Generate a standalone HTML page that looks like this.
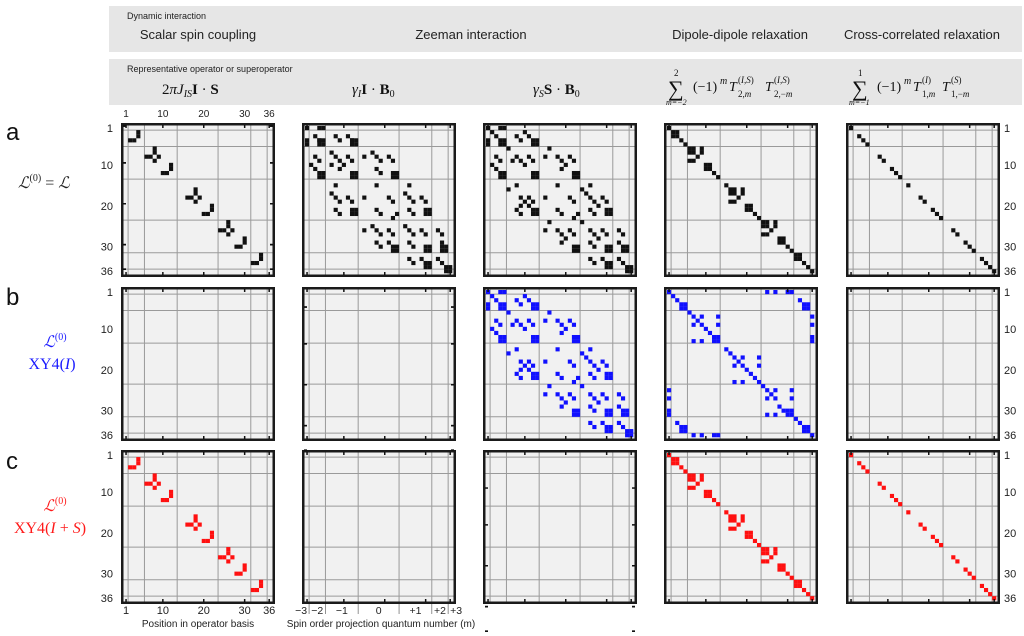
<!DOCTYPE html>
<html><head><meta charset="utf-8"><style>
html,body{margin:0;padding:0;background:#fff;width:1024px;height:636px;overflow:hidden;}
svg{display:block;overflow:hidden;}
text{font-family:"Liberation Sans",sans-serif;}
.s{font-family:"Liberation Serif","DejaVu Serif",serif;}
</style></head><body>
<svg id="sv" width="1024" height="636" viewBox="0 0 1024 636" xmlns="http://www.w3.org/2000/svg">
<rect x="109" y="6" width="913" height="46" fill="#e6e6e6"/>
<rect x="109" y="59" width="913" height="46" fill="#e6e6e6"/>
<text x="127" y="19" font-size="9" fill="#222">Dynamic interaction</text>
<text x="198" y="39" font-size="13" text-anchor="middle" fill="#222">Scalar spin coupling</text>
<text x="471" y="39" font-size="13" text-anchor="middle" fill="#222">Zeeman interaction</text>
<text x="740" y="39" font-size="13" text-anchor="middle" fill="#222">Dipole-dipole relaxation</text>
<text x="922" y="39" font-size="13" text-anchor="middle" fill="#222">Cross-correlated relaxation</text>
<text x="127" y="72" font-size="9" fill="#222">Representative operator or superoperator</text>
<g fill="#111">
<text x="162" y="94" font-size="15" class="s">2<tspan font-style="italic">πJ</tspan><tspan font-style="italic" font-size="10" dy="3">IS</tspan><tspan font-weight="bold" dy="-3">I</tspan> · <tspan font-weight="bold">S</tspan></text>
<text x="352" y="94" font-size="15" class="s"><tspan font-style="italic">γ</tspan><tspan font-style="italic" font-size="10" dy="3">I</tspan><tspan font-weight="bold" dy="-3">I</tspan> · <tspan font-weight="bold">B</tspan><tspan font-size="10" dy="3">0</tspan></text>
<text x="533" y="94" font-size="15" class="s"><tspan font-style="italic">γ</tspan><tspan font-style="italic" font-size="10" dy="3">S</tspan><tspan font-weight="bold" dy="-3">S</tspan> · <tspan font-weight="bold">B</tspan><tspan font-size="10" dy="3">0</tspan></text>

<text x="674" y="76" font-size="9" class="s">2</text>
<text x="668" y="96" font-size="22" class="s">∑</text>
<text x="666" y="105" font-size="8" class="s" font-style="italic">m=−2</text>
<text x="693" y="91" font-size="14" class="s">(−1)</text>
<text x="720" y="84" font-size="10" class="s" font-style="italic">m</text>
<text x="729" y="91" font-size="14" class="s" font-style="italic">T</text>
<text x="738" y="83" font-size="9" class="s">(<tspan font-style="italic">I,S</tspan>)</text>
<text x="738" y="97" font-size="9" class="s">2,<tspan font-style="italic">m</tspan></text>
<text x="765" y="91" font-size="14" class="s" font-style="italic">T</text>
<text x="774" y="83" font-size="9" class="s">(<tspan font-style="italic">I,S</tspan>)</text>
<text x="774" y="97" font-size="9" class="s">2,−<tspan font-style="italic">m</tspan></text>

<text x="858" y="76" font-size="9" class="s">1</text>
<text x="852" y="96" font-size="22" class="s">∑</text>
<text x="849" y="105" font-size="8" class="s" font-style="italic">m=−1</text>
<text x="877" y="91" font-size="14" class="s">(−1)</text>
<text x="904" y="84" font-size="10" class="s" font-style="italic">m</text>
<text x="913" y="91" font-size="14" class="s" font-style="italic">T</text>
<text x="922" y="83" font-size="9" class="s">(<tspan font-style="italic">I</tspan>)</text>
<text x="922" y="97" font-size="9" class="s">1,<tspan font-style="italic">m</tspan></text>
<text x="942" y="91" font-size="14" class="s" font-style="italic">T</text>
<text x="951" y="83" font-size="9" class="s">(<tspan font-style="italic">S</tspan>)</text>
<text x="951" y="97" font-size="9" class="s">1,−<tspan font-style="italic">m</tspan></text>
</g>
<text x="6" y="140" font-size="24" fill="#111">a</text>
<text x="6" y="305" font-size="24" fill="#111">b</text>
<text x="6" y="469" font-size="24" fill="#111">c</text>
<text x="18" y="188" font-size="16" class="s" font-style="italic" fill="#222">ℒ<tspan font-style="normal" font-size="10" dy="-7">(0)</tspan><tspan font-style="normal" dy="7"> = </tspan>ℒ</text>
<text x="55" y="347" font-size="16" class="s" font-style="italic" fill="#1a1aff" text-anchor="middle">ℒ<tspan font-style="normal" font-size="10" dy="-7">(0)</tspan></text>
<text x="52" y="369" font-size="16" class="s" fill="#1a1aff" text-anchor="middle">XY4(<tspan font-style="italic">I</tspan>)</text>
<text x="55" y="511" font-size="16" class="s" font-style="italic" fill="#ff1a1a" text-anchor="middle">ℒ<tspan font-style="normal" font-size="10" dy="-7">(0)</tspan></text>
<text x="50" y="533" font-size="16" class="s" fill="#ff1a1a" text-anchor="middle">XY4(<tspan font-style="italic">I</tspan> + <tspan font-style="italic">S</tspan>)</text>
<text x="198" y="627" font-size="10" text-anchor="middle" fill="#222">Position in operator basis</text>
<text x="381" y="627" font-size="10" text-anchor="middle" fill="#222">Spin order projection quantum number (m)</text>
<g id="g"></g>
</svg>
<script>
(function(){
var NS="http://www.w3.org/2000/svg",g=document.getElementById('g');
function el(t,a,txt){var e=document.createElementNS(NS,t);for(var k in a)e.setAttribute(k,a[k]);if(txt!=null)e.textContent=txt;g.appendChild(e);return e;}
var C=4.09,S=154;
var PX=[121,302,483,664,846],PY=[123,287,450];
function cx(x0,i){return x0+3+i*C;}
function col1(){var L=[];[4,12,22,30,34].forEach(function(q){L.push([q,q-2],[q,q-1],[q-2,q],[q-1,q]);});
[8,18,26].forEach(function(q){L.push([q,q-2],[q,q-1],[q-2,q],[q-1,q],[q,q+1],[q+1,q]);});
return L.map(function(p){return [p[0]-1,p[1]-1];});}
function sq(L,rr,cc,n){n=n||2;for(var i=0;i<n;i++)for(var j=0;j<n;j++)L.push([rr+i-1,cc+j-1]);}
function col4(){var L=[];function d(a,b){L.push([a-1,b-1]);}
d(1,1);sq(L,2,2);d(4,4);d(5,5);sq(L,6,6);d(6,9);d(7,9);d(9,6);d(9,7);d(8,8);sq(L,10,10);d(12,12);d(13,13);d(15,15);
sq(L,16,16);d(16,19);d(17,19);d(19,16);d(19,17);d(18,18);sq(L,20,20);d(22,22);d(23,23);sq(L,24,24);d(24,27);d(25,27);d(27,24);d(27,25);d(26,26);
sq(L,28,28);d(30,30);d(31,31);sq(L,32,32);d(34,34);d(35,35);d(36,36);return L;}
function col5(){return [1,3,4,5,8,9,11,12,13,15,18,19,21,22,23,26,27,29,30,31,33,34,35,36].map(function(i){return [i-1,i-1];});}
function conv(dots,sqs,ox,oy,cs){var L=[];dots.forEach(function(p){L.push([Math.floor((p[1]-oy)/cs),Math.floor((p[0]-ox)/cs)]);});
sqs.forEach(function(p){var n=p[2]||2;var bc=Math.round((p[0]-ox)/cs),br=Math.round((p[1]-oy)/cs);
for(var i=0;i<n;i++)for(var j=0;j<n;j++)L.push([br-1+i,bc-1+j]);});
return L.filter(function(p){return p[0]>=0&&p[0]<36&&p[1]>=0&&p[1]<36;});}
var c2d=[[16,12],[55,12],[67,12],[40,38],[52,50],[14,50],[14,62],[100,38],[112,50],[140,38],[152,50],
[40,100],[52,112],[28,125],[40,137],[88,88],[100,100],[112,112],[125,125],[140,100],[152,112],[112,137],[88,125],
[188,100],[212,88],[225,100],[237,112],[262,100],[274,112],[225,137],[237,147],
[100,185],[225,185],[322,185],[88,210],[100,222],[112,235],[140,222],[152,235],[188,222],[262,222],[274,235],[310,210],[322,222],[335,235],[358,222],[370,235],[100,258],[112,270],[225,258],[237,270],[274,282],[285,270],[322,258],[335,270],
[188,320],[212,308],[225,320],[237,332],[262,320],[274,332],[310,308],[322,320],[335,332],[358,320],[370,332],[408,320],[420,332],[225,355],[237,367],[262,355],[322,355],[335,367],[420,355],
[322,405],[335,418],[358,405],[370,418],[408,405],[420,418]];
var c2s=[[60,57],[155,57],[60,152],[155,152],[280,152],[155,272],[375,272],[280,375],[375,375],[430,375],[375,425],[436,436,3]];
var c3d=[[14,14],[55,12],[67,12],[28,25],[40,38],[14,50],[14,62],[100,38],[112,50],[125,25],[140,38],[80,75],[200,75],
[40,100],[52,112],[28,125],[40,137],[100,100],[112,112],[125,125],[137,100],[150,112],[88,112],[188,100],[225,100],[237,112],[250,125],[262,100],[274,112],[237,137],
[80,197],[100,185],[225,185],[322,185],[298,197],[188,222],[112,222],[125,235],[137,247],[112,245],[140,222],[152,235],[100,258],[112,270],[262,222],[274,235],[225,258],[237,270],[274,282],[285,270],[310,210],[322,222],[335,235],[347,247],[358,222],[370,235],[322,258],[335,270],
[200,295],[298,295],[188,320],[225,320],[237,332],[250,345],[262,320],[274,332],[237,355],[322,320],[335,332],[347,345],[358,320],[370,332],[408,320],[420,332],[322,355],[335,367],[408,355],
[322,405],[335,418],[358,405],[408,405],[420,418]];
var c3s=[[60,57],[155,57],[60,152],[155,152],[280,152],[155,272],[375,272],[280,375],[375,375],[430,375],[375,425],[436,436,3]];
var b4d=[[600,33],[612,45],[625,57],[660,95],[672,105],[697,105],[685,118],[672,130],[697,130],[710,142],[722,155],[745,105],[745,130],[672,180],[697,180],[770,205],[782,218],[795,230],[820,230],[808,243],[795,255],[820,255],[832,268],[845,280],[857,292],[868,230],[868,255],[795,300],[820,300],[870,305],[882,318],[893,330],[918,330],[905,343],[893,355],[918,355],[965,330],[965,355],[930,368],[945,380],[893,400],[918,400],[980,412],[993,425],[1028,462],[893,33],[918,33],[955,33],[967,33],[990,57],[1028,105],[1028,130],[1028,170],[1028,182],[600,328],[600,352],[600,390],[600,402],[625,425],[672,462],[697,462],[735,462],[747,462]];
var b4s=[[640,75],[740,175],[960,395],[1008,440],[1010,75],[640,440]];
var COL=["#111111","#1010ff","#ff1010"];
var M=[[col1(),conv(c2d,c2s,9,9,12.27),conv(c3d,c3s,9,9,12.27),col4(),col5()],
[[],[],conv(c3d,c3s,9,9,12.27),conv(b4d,b4s,592,24,12.27),[]],
[col1(),[],[],col4(),col5()]];
var bounds=[1,5,13,23,31,35],tk=[0.5,9.5,19.5,29.5,35.5];
function panel(row,col){
var x0=PX[col],y0=PY[row],fill=COL[row];
el('rect',{x:x0,y:y0,width:S,height:S,fill:'#f1f1f1'});
bounds.forEach(function(b){
el('line',{x1:cx(x0,b),x2:cx(x0,b),y1:y0+2,y2:y0+S-2,stroke:'#9a9a9a','stroke-width':1});
el('line',{y1:cx(y0,b),y2:cx(y0,b),x1:x0+2,x2:x0+S-2,stroke:'#9a9a9a','stroke-width':1});});
M[row][col].forEach(function(p){el('rect',{x:(cx(x0,p[1])).toFixed(2),y:(cx(y0,p[0])).toFixed(2),width:C+0.05,height:C+0.05,fill:fill,style:'fill:'+fill});});
el('rect',{x:x0+1.25,y:y0+1.25,width:S-2.5,height:S-2.5,fill:'none',stroke:'#1a1a1a','stroke-width':2.5});
tk.forEach(function(t){var p=cx(x0,t);
el('line',{x1:p,x2:p,y1:y0+2,y2:y0+5,stroke:'#111','stroke-width':1.5});
el('line',{x1:p,x2:p,y1:y0+S-5,y2:y0+S-2,stroke:'#111','stroke-width':1.5});
el('line',{y1:p,y2:p,x1:x0+2,x2:x0+5,stroke:'#111','stroke-width':1.5});
el('line',{y1:p,y2:p,x1:x0+S-5,x2:x0+S-2,stroke:'#111','stroke-width':1.5});});
}
for(var rr=0;rr<3;rr++)for(var cc=0;cc<5;cc++)panel(rr,cc);
var lab=['1','10','20','30','36'];
[0,1,2].forEach(function(row){tk.forEach(function(t,i){
el('text',{x:113,y:cx(PY[row],t)+4,'font-size':11,'text-anchor':'end',fill:'#222'},lab[i]);
el('text',{x:1004,y:cx(PY[row],t)+4,'font-size':11,fill:'#222'},lab[i]);});});
tk.forEach(function(t,i){
el('text',{x:cx(121,t),y:117,'font-size':10,'text-anchor':'middle',fill:'#222'},lab[i]);
el('text',{x:cx(121,t),y:614,'font-size':11,'text-anchor':'middle',fill:'#222'},lab[i]);});
var ml=[['−3',0.5,'end',-1],['−2',3,'middle',0],['−1',9,'middle',0],['0',18,'middle',0],['+1',27,'middle',0],['+2',33,'middle',0],['+3',35.5,'start',1]];
ml.forEach(function(m){var x=cx(302,m[1]);if(m[3]<0)x=cx(302,1)-2;if(m[3]>0)x=cx(302,35)+2;
el('text',{x:x,y:614,'font-size':10.5,'text-anchor':m[2],fill:'#222'},m[0]);});
bounds.forEach(function(b){el('line',{x1:cx(302,b),x2:cx(302,b),y1:604,y2:614,stroke:'#777','stroke-width':0.8});});
})();
</script>
</body></html>
